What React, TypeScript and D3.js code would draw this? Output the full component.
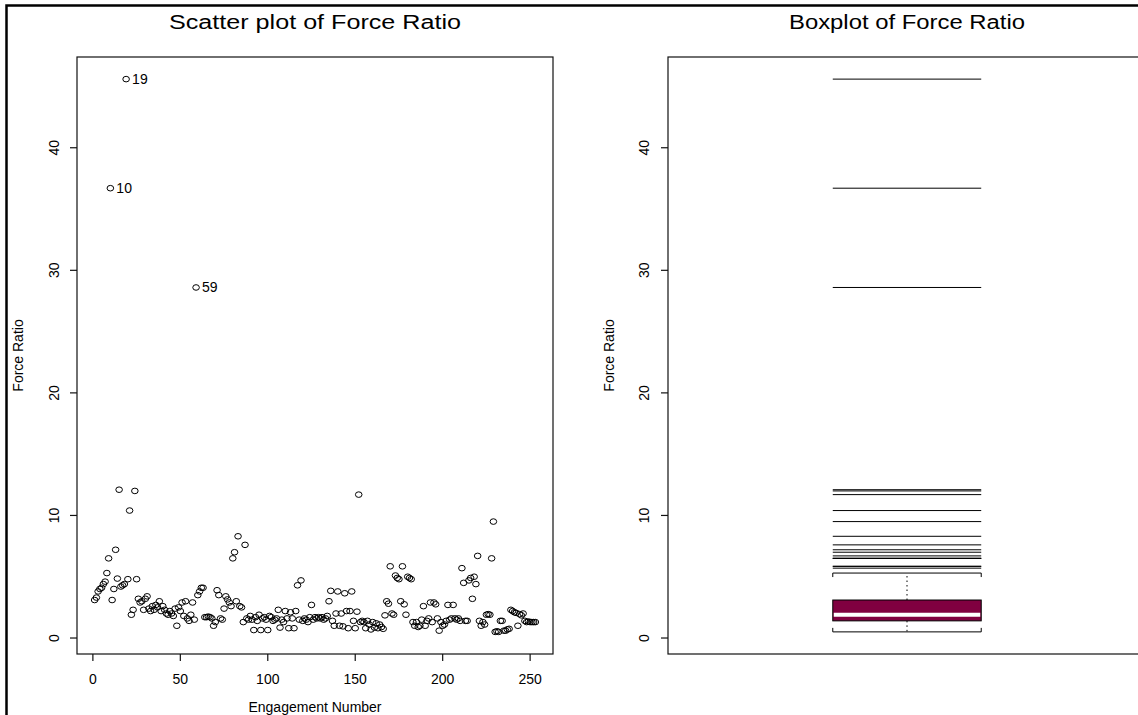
import React from 'react';
import * as d3 from 'd3';

// Force ratio per engagement (engagement number = position + 1)
const forceRatio: number[] = [
  3.1, 3.3, 3.8, 4.0, 4.1, 4.4, 4.6, 5.3, 6.5, 36.7,
  3.1, 4.0, 7.2, 4.85, 12.1, 4.2, 4.3, 4.4, 45.6, 4.8,
  10.4, 1.9, 2.3, 12.0, 4.8, 3.2, 2.9, 3.0, 2.3, 3.2,
  3.4, 2.4, 2.2, 2.6, 2.3, 2.7, 2.5, 3.0, 2.2, 2.6,
  2.3, 2.0, 1.9, 2.2, 2.0, 1.8, 2.4, 1.0, 2.5, 2.2,
  2.9, 1.8, 3.0, 1.6, 1.4, 1.9, 2.9, 1.5, 28.6, 3.5,
  3.8, 4.1, 4.1, 1.7, 1.7, 1.75, 1.7, 1.6, 1.0, 1.3,
  3.9, 3.5, 1.6, 1.5, 2.4, 3.4, 3.15, 2.9, 2.6, 6.5,
  7.0, 3.0, 8.3, 2.6, 2.5, 1.3, 7.6, 1.6, 1.5, 1.8,
  1.5, 0.65, 1.7, 1.4, 1.9, 0.65, 1.6, 1.7, 1.5, 0.65,
  1.8, 1.7, 1.4, 1.5, 1.6, 2.3, 0.85, 1.5, 1.3, 2.2,
  1.6, 0.8, 2.1, 1.6, 0.8, 2.2, 4.3, 1.5, 4.7, 1.4,
  1.6, 1.5, 1.3, 1.7, 2.7, 1.5, 1.7, 1.6, 1.7, 1.6,
  1.7, 1.5, 1.6, 1.8, 3.0, 3.85, 1.4, 1.0, 2.0, 3.8,
  1.0, 2.0, 0.95, 3.65, 2.2, 0.8, 2.2, 3.8, 1.4, 0.8,
  2.15, 11.7, 1.3, 1.4, 1.3, 0.8, 1.4, 1.1, 0.7, 1.3,
  0.85, 1.2, 0.8, 1.1, 0.9, 0.75, 1.85, 3.0, 2.8, 5.85,
  2.0, 1.9, 5.1, 4.9, 4.8, 3.0, 5.85, 2.75, 1.9, 5.0,
  4.9, 4.8, 1.3, 1.0, 1.3, 0.9, 1.0, 1.5, 2.6, 1.0,
  1.4, 1.6, 2.9, 1.3, 2.9, 2.75, 1.6, 0.6, 1.3, 1.0,
  1.1, 1.4, 2.7, 1.5, 1.6, 2.7, 1.6, 1.5, 1.6, 1.4,
  5.7, 4.5, 1.4, 1.4, 4.7, 4.9, 3.2, 5.0, 4.4, 6.7,
  1.4, 1.0, 1.3, 1.1, 1.9, 1.95, 1.9, 6.5, 9.5, 0.5,
  0.55, 0.5, 1.4, 1.4, 0.6, 0.6, 0.7, 0.75, 2.3, 2.2,
  2.1, 2.05, 1.0, 1.95, 1.85, 2.0, 1.4, 1.3, 1.35, 1.3,
  1.3, 1.3, 1.3,
];

const labeledEngagements: number[] = [10, 19, 59];
const xTicks: number[] = [0, 50, 100, 150, 200, 250];
const yTicks: number[] = [0, 10, 20, 30, 40];
const boxCategories: string[] = ['Force Ratio'];

const titles = { scatter: 'Scatter plot of Force Ratio', box: 'Boxplot of Force Ratio' };
const labels = { x: 'Engagement Number', y: 'Force Ratio' };

const W = 1138;
const H = 715;
const FONT = '"Liberation Sans", Arial, Helvetica, sans-serif';
const SP = { left: 77, right: 553, top: 57, bottom: 654 };
const BP = { left: 668, right: 1146, top: 57, bottom: 654 };
const BOX_FILL = '#800040';
const AXIS = '#111';

export default function App() {
  const n = forceRatio.length;
  const engagement = forceRatio.map((_, i) => i + 1);
  const [ymin, ymax] = d3.extent(forceRatio) as [number, number];
  const yPad = (ymax - ymin) * 0.04;
  const xPad = (n - 1) * 0.04;

  const x = d3.scaleLinear().domain([1 - xPad, n + xPad]).range([SP.left, SP.right]);
  const y = d3.scaleLinear().domain([ymin - yPad, ymax + yPad]).range([SP.bottom, SP.top]);
  const yb = d3.scaleLinear().domain([ymin - yPad, ymax + yPad]).range([BP.bottom, BP.top]);
  const xb = d3.scaleBand().domain(boxCategories).range([BP.left, BP.right]).paddingInner(0).paddingOuter(1.11);

  // R-style fivenum hinges
  const sorted = d3.sort(forceRatio);
  const q = (p: number) => 0.5 * (sorted[Math.floor(p) - 1] + sorted[Math.ceil(p) - 1]);
  const n4 = Math.floor((n + 3) / 2) / 2;
  const five = [sorted[0], q(n4), q((n + 1) / 2), q(n + 1 - n4), sorted[n - 1]];
  const iqr = five[3] - five[1];
  const hiF = five[3] + 1.5 * iqr;
  const loF = five[1] - 1.5 * iqr;
  const inside = sorted.filter((v) => v >= loF && v <= hiF);
  const wLo = d3.min(inside) as number;
  const wHi = d3.max(inside) as number;
  const outliers = sorted.filter((v) => v < loF || v > hiF);

  const bx0 = xb('Force Ratio') as number;
  const bw = xb.bandwidth();
  const bx1 = bx0 + bw;
  const bxc = bx0 + bw / 2;
  const stub = 4;

  const tickLen = 7;

  return (
    <svg width={W} height={H} style={{ position: 'absolute', left: 0, top: 0, display: 'block', background: '#fff' }} fontFamily={FONT}>
      <rect x={0} y={0} width={W} height={H} fill="#fff" />
      {/* outer frame */}
      <rect x={6.5} y={5.5} width={W + 20} height={H + 20} fill="none" stroke="#000" strokeWidth={2.5} />

      {/* ===== Scatter panel ===== */}
      <text x={(SP.left + SP.right) / 2} y={29} textAnchor="middle" fontSize={20} textLength={292} lengthAdjust="spacingAndGlyphs">{titles.scatter}</text>
      <rect x={SP.left} y={SP.top} width={SP.right - SP.left} height={SP.bottom - SP.top} fill="none" stroke={AXIS} strokeWidth={1.2} />
      {xTicks.map((t) => (
        <g key={'xt' + t}>
          <line x1={x(t)} x2={x(t)} y1={SP.bottom} y2={SP.bottom + tickLen} stroke={AXIS} strokeWidth={1.2} />
          <text x={x(t)} y={684} textAnchor="middle" fontSize={14}>{t}</text>
        </g>
      ))}
      {yTicks.map((t) => (
        <g key={'yt' + t}>
          <line x1={SP.left - tickLen} x2={SP.left} y1={y(t)} y2={y(t)} stroke={AXIS} strokeWidth={1.2} />
          <text transform={`translate(59,${y(t)}) rotate(-90)`} textAnchor="middle" fontSize={14}>{t}</text>
        </g>
      ))}
      <text x={(SP.left + SP.right) / 2} y={712} textAnchor="middle" fontSize={14}>{labels.x}</text>
      <text transform={`translate(23,${(SP.top + SP.bottom) / 2}) rotate(-90)`} textAnchor="middle" fontSize={14}>{labels.y}</text>
      {forceRatio.map((v, i) => (
        <ellipse key={'p' + i} cx={x(engagement[i])} cy={y(v)} rx={3.3} ry={2.8} fill="none" stroke="#000" strokeWidth={1} />
      ))}
      {labeledEngagements.map((e) => (
        <text key={'lab' + e} x={x(e) + 6} y={y(forceRatio[e - 1]) + 5} fontSize={14}>{e}</text>
      ))}

      {/* ===== Box panel ===== */}
      <text x={(BP.left + BP.right) / 2} y={29} textAnchor="middle" fontSize={20} textLength={236} lengthAdjust="spacingAndGlyphs">{titles.box}</text>
      <rect x={BP.left} y={BP.top} width={BP.right - BP.left} height={BP.bottom - BP.top} fill="none" stroke={AXIS} strokeWidth={1.2} />
      {yTicks.map((t) => (
        <g key={'byt' + t}>
          <line x1={BP.left - tickLen} x2={BP.left} y1={yb(t)} y2={yb(t)} stroke={AXIS} strokeWidth={1.2} />
          <text transform={`translate(649,${yb(t)}) rotate(-90)`} textAnchor="middle" fontSize={14}>{t}</text>
        </g>
      ))}
      <text transform={`translate(614,${(BP.top + BP.bottom) / 2}) rotate(-90)`} textAnchor="middle" fontSize={14}>{labels.y}</text>

      {/* whiskers */}
      <line x1={bxc} x2={bxc} y1={yb(five[3])} y2={yb(wHi)} stroke="#000" strokeDasharray="1.5,3" strokeWidth={1} />
      <line x1={bxc} x2={bxc} y1={yb(five[1])} y2={yb(wLo)} stroke="#000" strokeDasharray="1.5,3" strokeWidth={1} />
      {/* staples */}
      <path d={`M${bx0},${yb(wHi) + stub}V${yb(wHi)}H${bx1}V${yb(wHi) + stub}`} fill="none" stroke="#000" strokeWidth={1} />
      <path d={`M${bx0},${yb(wLo) - stub}V${yb(wLo)}H${bx1}V${yb(wLo) - stub}`} fill="none" stroke="#000" strokeWidth={1} />
      {/* box */}
      <rect x={bx0} y={yb(five[3])} width={bw} height={yb(five[1]) - yb(five[3])} fill={BOX_FILL} stroke="#000" strokeWidth={1} />
      <line x1={bx0 + 1} x2={bx1 - 1} y1={yb(five[2])} y2={yb(five[2])} stroke="#fff" strokeWidth={4} />
      {/* outliers as lines */}
      {outliers.map((v, i) => (
        <line key={'o' + i} x1={bx0} x2={bx1} y1={yb(v)} y2={yb(v)} stroke="#000" strokeWidth={1} />
      ))}
    </svg>
  );
}
